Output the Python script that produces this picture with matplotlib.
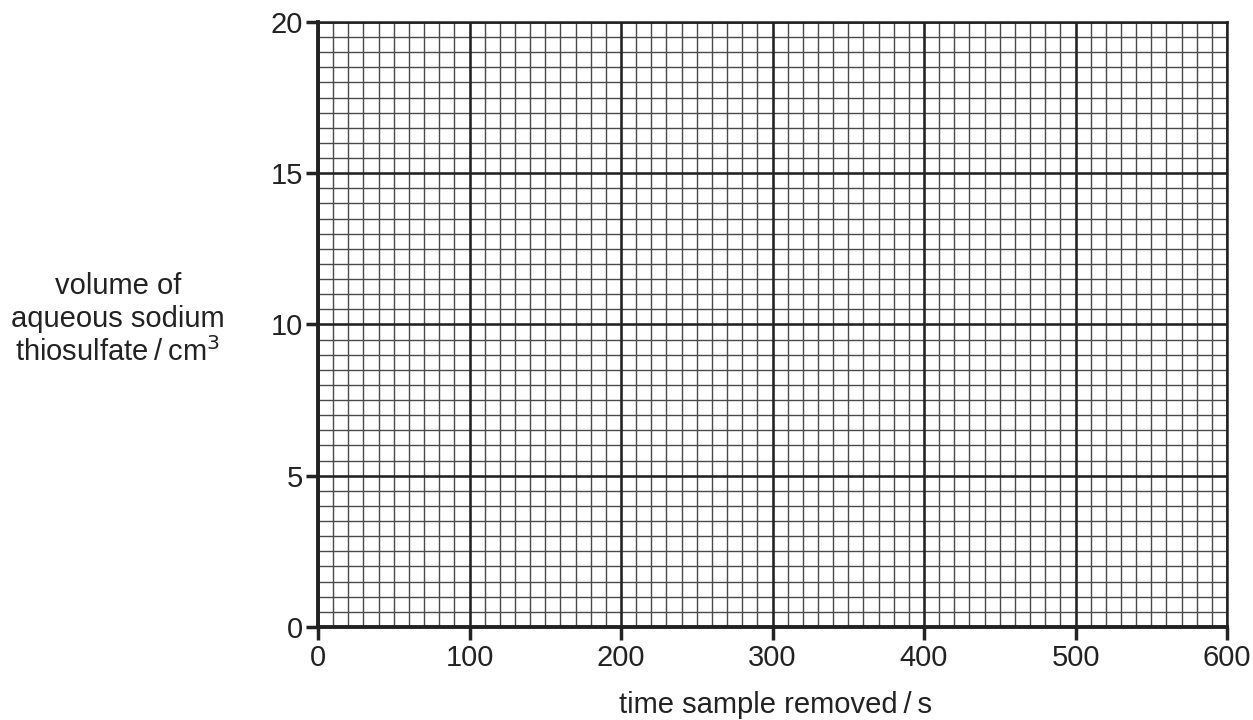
import numpy as np
import matplotlib.pyplot as plt

plt.rcParams['font.family'] = ['Liberation Sans', 'DejaVu Sans']

xTicks = [0, 100, 200, 300, 400, 500, 600]
yTicks = [0, 5, 10, 15, 20]
xMinorStep = 10
yMinorStep = 0.5

xLabel = "time sample removed\u2009/\u2009s"
yLabel = "volume of\naqueous sodium\nthiosulfate\u2009/\u2009cm$^3$"

fig = plt.figure(figsize=(12.53, 7.2), dpi=100)
ax = fig.add_axes([0.2538, 0.1292, 0.7255, 0.8403])

ax.set_xlim(xTicks[0], xTicks[-1])
ax.set_ylim(yTicks[0], yTicks[-1])

# minor grid
for x in np.arange(xTicks[0], xTicks[-1] + xMinorStep, xMinorStep):
    ax.axvline(x, color='#4a4a4a', lw=1.0, zorder=1)
for y in np.arange(yTicks[0], yTicks[-1] + yMinorStep, yMinorStep):
    ax.axhline(y, color='#4a4a4a', lw=1.0, zorder=1)

# major grid
for x in xTicks:
    ax.axvline(x, color='#222222', lw=1.8, zorder=2)
for y in yTicks:
    ax.axhline(y, color='#222222', lw=1.8, zorder=2)

ax.set_xticks(xTicks)
ax.set_yticks(yTicks)
ax.tick_params(axis='both', direction='out', length=9, width=2.5,
               color='#222222', labelsize=21, labelcolor='#222222')
ax.tick_params(axis='x', pad=3)
ax.tick_params(axis='y', pad=2)

for side in ['left', 'bottom']:
    ax.spines[side].set_linewidth(2.8)
    ax.spines[side].set_color('#222222')
    ax.spines[side].set_zorder(3)
for side in ['right', 'top']:
    ax.spines[side].set_linewidth(1.8)
    ax.spines[side].set_color('#222222')

fig.text(0.094, 0.556, yLabel, ha='center', va='center', fontsize=21,
         color='#222222', linespacing=1.2)
fig.text(0.619, 0.021, xLabel, ha='center', va='center', fontsize=21,
         color='#222222')

fig.savefig('out.png', dpi=100)
